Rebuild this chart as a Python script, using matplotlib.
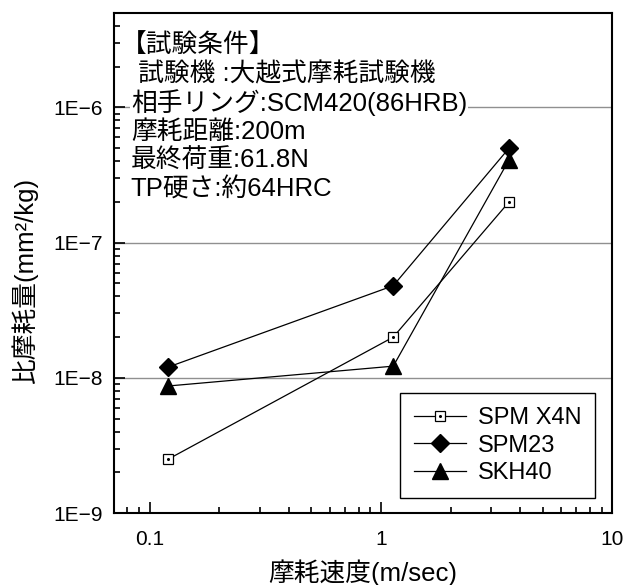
import numpy as np
import matplotlib
matplotlib.use("Agg")
import matplotlib.pyplot as plt
from matplotlib.ticker import LogLocator, FuncFormatter, NullFormatter
from matplotlib.legend_handler import HandlerTuple

plt.rcParams['font.family'] = ['Liberation Sans', 'Noto Sans CJK JP', 'DejaVu Sans']

# data
speed = [0.12, 1.13, 3.58]
spm_x4n = [2.5e-9, 2.0e-8, 2.0e-7]
spm23 = [1.2e-8, 4.8e-8, 5.0e-7]
skh40 = [8.7e-9, 1.22e-8, 4.1e-7]

conditions = ["【試験条件】",
              " 試験機 :大越式摩耗試験機",
              "相手リング:SCM420(86HRB)",
              "摩耗距離:200m",
              "最終荷重:61.8N",
              "TP硬さ:約64HRC"]

fig = plt.figure(figsize=(6.26, 5.85), dpi=100)
ax = fig.add_axes([0.182, 0.123, 0.796, 0.855])

ax.set_xscale('log')
ax.set_yscale('log')
ax.set_xlim(0.07, 10)
ax.set_ylim(1e-9, 5e-6)

ax.yaxis.grid(True, which='major', color='#909090', lw=1.0)
ax.set_axisbelow(True)

l1, = ax.plot(speed, spm_x4n, color='k', lw=0.9, marker='s', ms=7,
              mfc='white', mec='k', mew=0.9)
d1, = ax.plot(speed, spm_x4n, ls='none', marker='o', ms=1.2, color='k')
l2, = ax.plot(speed, spm23, color='k', lw=0.9, marker='D', ms=9, mfc='k', mec='k')
l3, = ax.plot(speed, skh40, color='k', lw=0.9, marker='^', ms=11, mfc='k', mec='k')

ax.xaxis.set_major_locator(LogLocator(base=10, numticks=10))
ax.xaxis.set_minor_locator(LogLocator(base=10, subs=np.arange(2, 10), numticks=20))
ax.yaxis.set_major_locator(LogLocator(base=10, numticks=10))
ax.yaxis.set_minor_locator(LogLocator(base=10, subs=np.arange(2, 10), numticks=20))
ax.xaxis.set_major_formatter(FuncFormatter(lambda v, p: ('%g' % v)))
ax.yaxis.set_major_formatter(FuncFormatter(lambda v, p: '1E\u2212%d' % round(-np.log10(v))))
ax.xaxis.set_minor_formatter(NullFormatter())
ax.yaxis.set_minor_formatter(NullFormatter())

ax.tick_params(which='both', direction='in', top=False, right=False,
               labelsize=15, width=1.2)
ax.tick_params(axis='y', pad=8)
ax.tick_params(axis='x', pad=12)
ax.tick_params(which='major', length=8)
ax.tick_params(which='minor', length=4.5)
for s in ax.spines.values():
    s.set_linewidth(1.5)

ax.set_xlabel("摩耗速度(m/sec)", fontsize=18.5)
ax.xaxis.set_label_coords(0.5, -0.093)
ax.set_ylabel("比摩耗量(mm²/kg)", fontsize=18.5)
ax.yaxis.set_label_coords(-0.152, 0.464)

xs = [0.014, 0.034, 0.034, 0.034, 0.034, 0.032]
for i, line in enumerate(conditions):
    ax.text(xs[i], 0.936 - i * 0.058, line, transform=ax.transAxes,
            fontsize=18.5, va='center', ha='left',
            bbox=dict(facecolor='white', edgecolor='none', pad=0.5))

leg = ax.legend([(l1, d1), l2, l3], ["SPM X4N", "SPM23", "SKH40"],
                handler_map={tuple: HandlerTuple(ndivide=1, pad=0)},
                loc='lower right', bbox_to_anchor=(0.966, 0.03),
                borderaxespad=0, fontsize=17, fancybox=False, framealpha=1,
                edgecolor='k', handlelength=2.2, handletextpad=0.5,
                labelspacing=0.22, borderpad=0.6)
leg.get_frame().set_linewidth(1.0)

fig.savefig("out.png", dpi=100)
